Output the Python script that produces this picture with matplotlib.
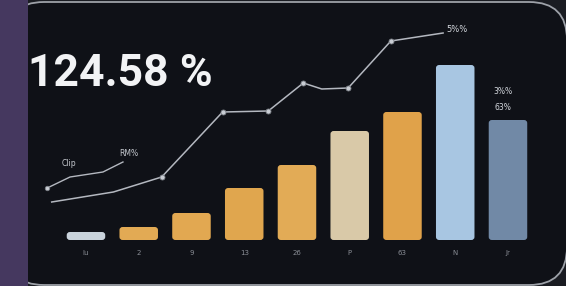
import matplotlib
matplotlib.use("Agg")
import matplotlib.pyplot as plt
from matplotlib.patches import FancyBboxPatch, Rectangle

# bar data (categories along x, value = height)
categories = ["Iu", "2", "9", "13", "26", "P", "63", "N", "Jr"]
bar_values = [8, 13, 27, 52, 75, 109, 128, 175, 120]
bar_colors = ["#c9d3dc", "#e2aa54", "#e2a851", "#e0a64e", "#e2ab56",
              "#d9c9a8", "#e0a24a", "#a8c6e2", "#7189a6"]

# trend lines (x in category positions)
main_x = [-0.65, 0.52, 1.435, 2.59, 3.456, 4.12, 4.47, 4.97, 5.78, 6.77]
main_y = [38, 48, 63, 128, 129, 157, 151, 152, 199, 207]
main_marks = [2, 3, 4, 5, 7, 8]

small_x = [-0.734, -0.303, 0.322, 0.701]
small_y = [52, 63, 68, 78]

headline = "124.58 %"

W, H = 566, 286
fig = plt.figure(figsize=(W / 100, H / 100), dpi=100)
fig.patch.set_facecolor("#1a1c22")

# background: purple strip + rounded dark panel
bg = fig.add_axes([0, 0, 1, 1])
bg.set_xlim(0, W)
bg.set_ylim(H, 0)
bg.axis("off")
panel = FancyBboxPatch((6, 2), 561, 283,
                       boxstyle="round,pad=0,rounding_size=38",
                       facecolor="#0f1117", edgecolor="#9da1a8", lw=1.3)
bg.add_patch(panel)
bg.add_patch(Rectangle((0, 0), 28, H, facecolor="#45385f", edgecolor="none", zorder=5))

# chart axes, category index -> pixels
ax = fig.add_axes([0, 0, 1, 1])
ax.patch.set_alpha(0)
ax.set_xlim(-1.630, 9.100)
ax.set_ylim(-46, 240)
ax.axis("off")

xs = list(range(len(categories)))
bars = ax.bar(xs, bar_values, width=0.73, color=bar_colors, zorder=2)
for b in bars:
    b.set_visible(False)
    rb = FancyBboxPatch((b.get_x(), b.get_y()), b.get_width(), b.get_height(),
                        boxstyle="round,pad=0,rounding_size=0.06",
                        mutation_aspect=50,
                        facecolor=b.get_facecolor(), edgecolor="none", zorder=2)
    ax.add_patch(rb)

for x, lab in zip(xs, categories):
    ax.text(x, -13, lab, color="#8a8e96", fontsize=5, ha="center", va="center")

ax.plot(main_x, main_y, color="#b4b8c0", lw=1.1, zorder=3,
        marker="o", markevery=main_marks, ms=3.6,
        mfc="#c9cdd4", mec="#7d8188", mew=0.6)
ax.plot(small_x, small_y, color="#b4b8c0", lw=1.0, zorder=3,
        marker="o", markevery=[0], ms=3.2,
        mfc="#c9cdd4", mec="#7d8188", mew=0.6)

ax.text(-0.32, 76, "Clip", color="#c4c8ce", fontsize=5.5, ha="center", va="center")
ax.text(0.81, 87, "RM%", color="#c4c8ce", fontsize=5.5, ha="center", va="center")
ax.text(7.03, 210, "5%%", color="#d4d8de", fontsize=6, ha="center", va="center")
ax.text(7.9, 149, "3%%", color="#d4d8de", fontsize=5.5, ha="center", va="center")
ax.text(7.9, 133, "63%", color="#d4d8de", fontsize=5.5, ha="center", va="center")

fig.text(28 / W, 1 - 74 / H, headline, color="#f2f3f5", fontsize=32,
         fontfamily="Roboto", fontweight="bold", ha="left", va="center")

fig.savefig("out.png", dpi=100, facecolor=fig.get_facecolor())
